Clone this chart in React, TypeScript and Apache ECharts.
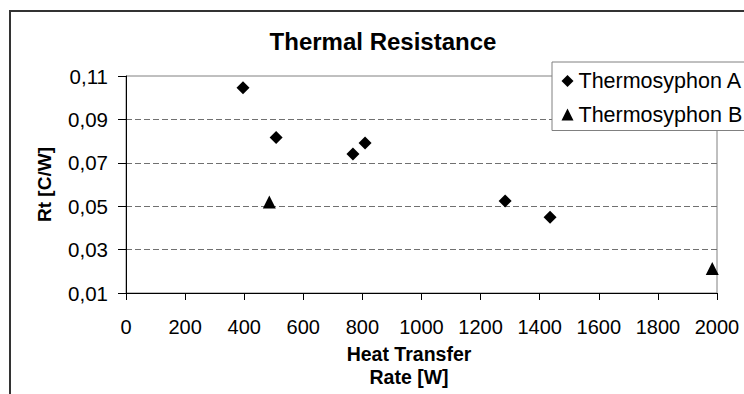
import React, { useEffect, useRef } from "react";
import * as echarts from "echarts";

const seriesNames = ["Thermosyphon A", "Thermosyphon B"];
const aX = [396, 508, 768, 809, 1283, 1435];
const aY = [0.1046, 0.0817, 0.0741, 0.0791, 0.0524, 0.0449];
const bX = [485, 1984];
const bY = [0.0519, 0.0213];
const titleText = "Thermal Resistance";
const xName = "Heat Transfer\nRate [W]";
const yName = "Rt [C/W]";

const FONT = "Liberation Sans";

export default function App() {
  const ref = useRef<HTMLDivElement>(null);
  useEffect(() => {
    if (!ref.current) return;
    const chart = echarts.init(ref.current, undefined, { renderer: "svg" });
    chart.setOption({
      animation: false,
      backgroundColor: "#ffffff",
      textStyle: { fontFamily: FONT, color: "#000" },
      grid: {
        left: 126,
        right: 27,
        top: 76,
        bottom: 98,
        show: true,
        borderColor: "#808080",
        borderWidth: 1,
        backgroundColor: "transparent",
      },
      graphic: [
        {
          type: "rect",
          shape: { x: 10, y: 11, width: 900, height: 600 },
          style: { fill: "none", stroke: "#333", lineWidth: 2 },
          silent: true,
          z: 0,
        },
        {
          type: "text",
          x: 383,
          y: 41.5,
          style: {
            text: titleText,
            font: `bold 24px ${FONT}`,
            fill: "#000",
            textAlign: "center",
            textVerticalAlign: "middle",
          },
        },
      ],
      legend: {
        orient: "vertical",
        left: 552,
        top: 62,
        padding: [8, 10, 5, 9.5],
        itemGap: 11.5,
        itemWidth: 12,
        itemHeight: 12,
        itemTextGap: 11.5,
        backgroundColor: "#fff",
        borderColor: "#808080",
        borderWidth: 1,
        textStyle: { fontFamily: FONT, fontSize: 21.5, color: "#000" },
        data: [
          { name: seriesNames[0], icon: "diamond" },
          { name: seriesNames[1], icon: "triangle" },
        ],
        z: 10,
      },
      xAxis: {
        type: "value",
        min: 0,
        max: 2000,
        interval: 200,
        name: xName,
        nameLocation: "middle",
        nameGap: 49,
        nameTextStyle: {
          fontFamily: FONT,
          fontSize: 19.5,
          fontWeight: "bold",
          color: "#000",
          lineHeight: 23.5,
          padding: [0, 25, 0, 0],
        },
        axisLine: { show: true, onZero: false, lineStyle: { color: "#000", width: 1 } },
        axisTick: { show: true, length: 7, lineStyle: { color: "#000" } },
        axisLabel: {
          fontFamily: FONT,
          fontSize: 20,
          color: "#000",
          margin: 24,
          formatter: (v: number) => String(v),
        },
        splitLine: { show: false },
      },
      yAxis: {
        type: "value",
        min: 0.01,
        max: 0.11,
        interval: 0.02,
        name: yName,
        nameLocation: "middle",
        nameGap: 72,
        nameTextStyle: {
          fontFamily: FONT,
          fontSize: 19,
          fontWeight: "bold",
          color: "#000",
        },
        axisLine: { show: true, lineStyle: { color: "#000", width: 1 } },
        axisTick: { show: true, length: 8, lineStyle: { color: "#000" } },
        axisLabel: {
          fontFamily: FONT,
          fontSize: 20.5,
          color: "#000",
          margin: 18,
          formatter: (v: number) => v.toFixed(2).replace(".", ","),
        },
        splitLine: {
          show: true,
          showMinLine: false,
          showMaxLine: false,
          lineStyle: { color: "#707070", type: [6, 3], width: 1 },
        },
      },
      series: [
        {
          name: seriesNames[0],
          type: "scatter",
          symbol: "diamond",
          symbolSize: 13,
          itemStyle: { color: "#000", opacity: 1 },
          data: aX.map((x, i) => [x, aY[i]]),
        },
        {
          name: seriesNames[1],
          type: "scatter",
          symbol: "triangle",
          symbolSize: 13,
          itemStyle: { color: "#000", opacity: 1 },
          data: bX.map((x, i) => [x, bY[i]]),
        },
      ],
    });
    return () => chart.dispose();
  }, []);
  return <div ref={ref} style={{ width: 744, height: 394, position: "absolute", left: 0, top: 0 }} />;
}
